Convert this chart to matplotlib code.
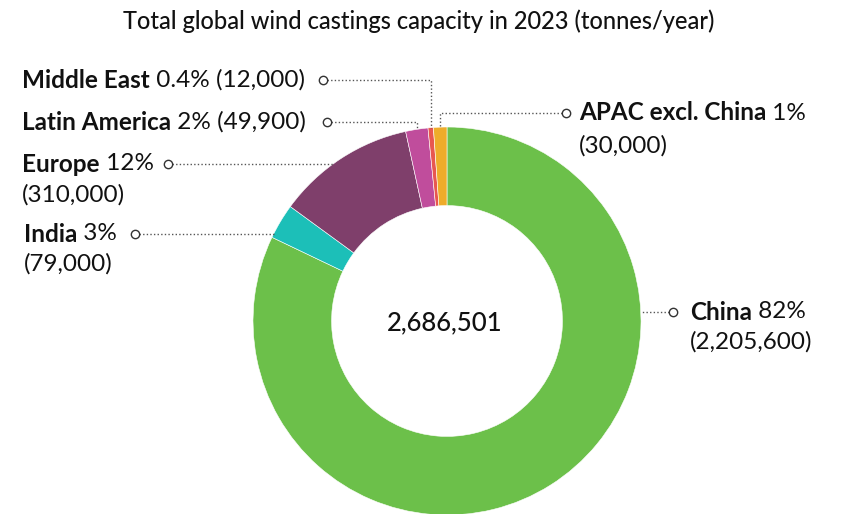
import matplotlib.pyplot as plt
import numpy as np

regions = ["China", "India", "Europe", "Latin America", "Middle East", "APAC excl. China"]
capacity = [2205600, 79000, 310000, 49900, 12000, 30000]
pct_labels = ["82%", "3%", "12%", "2%", "0.4%", "1%"]
value_labels = ["(2,205,600)", "(79,000)", "(310,000)", "(49,900)", "(12,000)", "(30,000)"]
total_label = "2,686,501"
title = "Total global wind castings capacity in 2023 (tonnes/year)"

colors = ["#6CC04A", "#1CBFB8", "#7F3F6B", "#C04D9C", "#E8574F", "#EEAC2A"]

W, H = 843, 514
fig = plt.figure(figsize=(W / 100, H / 100), dpi=100)
ax = fig.add_axes([0, 0, 1, 1])

plt.rcParams["font.family"] = ["Lato", "DejaVu Sans"]

cx, cy, R = 447, H - 321, 194
ax.pie(capacity, colors=colors, startangle=90, counterclock=False,
       center=(cx, cy), radius=R, frame=True,
       wedgeprops=dict(width=R * 0.405, edgecolor="white", linewidth=0.4))
ax.set_xlim(0, W)
ax.set_ylim(0, H)
ax.set_aspect("equal")
ax.axis("off")

ax.text(cx - 2, H - 323, total_label, ha="center", va="center", fontsize=18.5,
        fontweight="medium", color="#111111")
ax.text(419, H - 21, title, ha="center", va="center", fontsize=17,
        fontweight="medium", color="#111111")

# mid angle of each wedge (clockwise from the top)
frac = np.array(capacity) / np.sum(capacity)
mid = (np.cumsum(frac) - frac / 2) * 2 * np.pi

# label layout: (text x, first line y, circle x, side, leader kind, second line y or None)
layout = {
    "Middle East": (22, 80, 323, "left", "elbow", None),
    "Latin America": (22, 122, 327, "left", "elbow", None),
    "Europe": (22, 164, 168, "left", "flat", 195),
    "India": (24, 234, 135, "left", "flat", 264),
    "APAC excl. China": (579, 113, 566, "right", "elbow", 146),
    "China": (690, 312, 673, "right", "flat", 342),
}

fig.canvas.draw()
rend = fig.canvas.get_renderer()
fs = 17.5
line_kw = dict(color="#555555", linewidth=1.0, linestyle=(0, (1, 1.6)))

for i, name in enumerate(regions):
    tx, ty, ox, side, kind, ty2 = layout[name]
    y = H - ty
    t1 = ax.text(tx, y, name, ha="left", va="center", fontsize=fs,
                 fontweight="bold", color="#111111")
    bb = t1.get_window_extent(rend)
    rest = " " + pct_labels[i]
    if ty2 is None:
        rest += " " + value_labels[i]
    ax.text(bb.x1, y, rest, ha="left", va="center", fontsize=fs, color="#111111")
    if ty2 is not None:
        ax.text(tx, H - ty2, value_labels[i], ha="left", va="center",
                fontsize=fs, color="#111111")

    # leader line
    if kind == "elbow":
        ex = cx + R * np.sin(mid[i])
        ey = cy + R * np.cos(mid[i])
        xs = [ox + (4 if side == "left" else -4), ex, ex]
        ys = [y, y, ey]
    else:
        dy = y - cy
        ex = cx + (-1 if side == "left" else 1) * np.sqrt(R ** 2 - dy ** 2)
        xs = [ox + (4 if side == "left" else -4), ex]
        ys = [y, y]
    ax.plot(xs, ys, **line_kw)
    ax.plot([ox], [y], marker="o", markersize=6, markerfacecolor="white",
            markeredgecolor="#333333", markeredgewidth=1.0)

fig.savefig("out.png", dpi=100)
